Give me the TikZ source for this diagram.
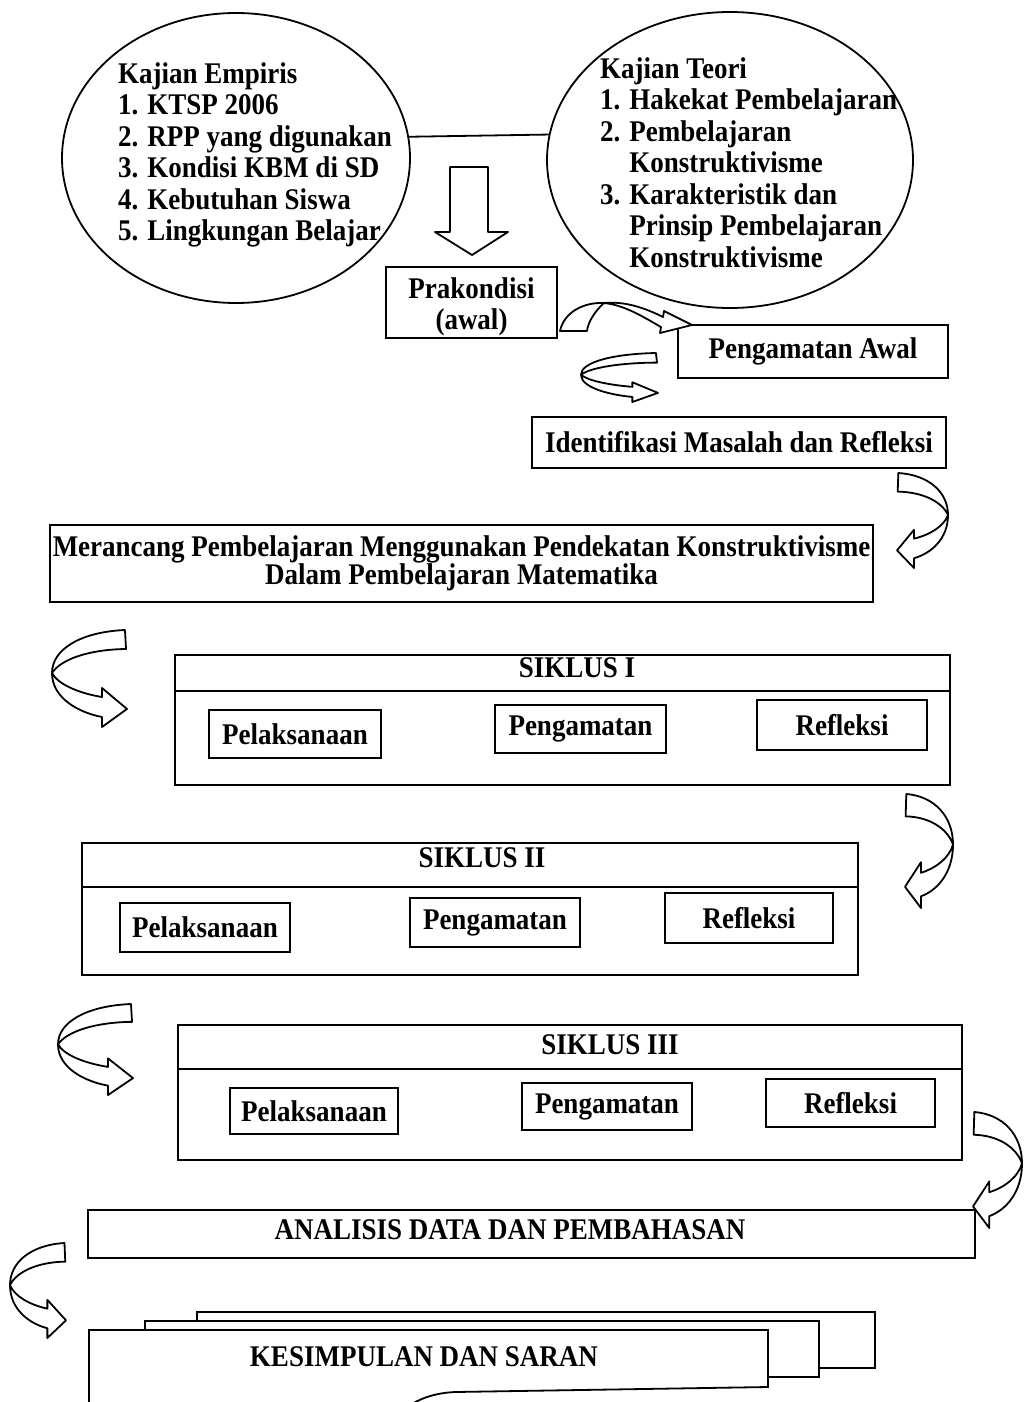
\documentclass[tikz,border=0pt]{standalone}
\usepackage{fontspec}
\setmainfont{Liberation Serif}[FakeStretch=0.9]
\usetikzlibrary{shapes.geometric}
\newcommand\CArrow[4]{%
  \begin{scope}[shift={(#1,#2)},xscale=#3,yscale=#4]
  \draw[arr] (0.973,0) .. controls (0.38,0.02) and (0,0.2) .. (0,0.443)
   .. controls (0,0.7) and (0.35,0.85) .. (0.667,0.897)
   -- (0.667,1) -- (1,0.814) -- (0.667,0.598) -- (0.667,0.691)
   .. controls (0.35,0.65) and (0.08,0.56) .. (0,0.443)
   .. controls (0.12,0.3) and (0.5,0.2) .. (0.987,0.196) -- cycle;
  \end{scope}}
\begin{document}
\begin{tikzpicture}[x=1pt,y=-1pt,
  every node/.style={font=\bfseries\fontsize{30}{31.5}\selectfont, inner sep=0pt},
  box/.style={draw, line width=1.8pt, align=center},
  ell/.style={draw, ellipse, line width=1.8pt},
  arr/.style={draw, line width=1.8pt, line join=round, fill=white},
  lin/.style={line width=1.8pt}]
\useasboundingbox (0,0) rectangle (1023,1402);
\clip (0,0) rectangle (1023,1402);

% ellipses
\node[ell, minimum width=348pt, minimum height=290pt] (le) at (236,158) {};
\node[ell, minimum width=366pt, minimum height=296pt] (re) at (730,160) {};
\draw[lin] (le.7.5) -- (re.172.5);
\node[anchor=north west, align=left] (leT) at (118,62)
  {Kajian Empiris\\1. KTSP 2006\\2. RPP yang digunakan\\3. Kondisi KBM di SD\\4. Kebutuhan Siswa\\5. Lingkungan Belajar};
\node[anchor=north west, align=left] (reT) at (600,57)
  {Kajian Teori\\1. Hakekat Pembelajaran\\2. Pembelajaran\\\hphantom{2. }Konstruktivisme\\3. Karakteristik dan\\\hphantom{3. }Prinsip Pembelajaran\\\hphantom{3. }Konstruktivisme};

% down block arrow
\draw[arr] (450,167) -- (488,167) -- (488,232) -- (508,232) -- (472,255) -- (435,232) -- (450,232) -- cycle;

% boxes
\node[box, minimum width=171pt, minimum height=71pt] (pra) at (471.5,302.5) {};
\node[align=center] (prat) at (471.5,307) {Prakondisi\\(awal)};
\node[box, minimum width=270pt, minimum height=53pt] (pa) at (813,351.5) {Pengamatan Awal};
\node[box, minimum width=414pt, minimum height=51pt] (idm) at (739,442.5) {Identifikasi Masalah dan Refleksi};
\node[box, minimum width=823pt, minimum height=77pt, font=\bfseries\fontsize{30}{28}\selectfont] (mer) at (461.5,563.5)
  {Merancang Pembelajaran Menggunakan Pendekatan Konstruktivisme\\Dalam Pembelajaran Matematika};

% arch arrow Prakondisi -> Pengamatan Awal
\draw[arr] (560,331) .. controls (564,312) and (584,302) .. (604,303)
  .. controls (625,305) and (645,318) .. (661,327)
  -- (660,333) -- (692,325) -- (664,311) -- (663,317)
  .. controls (645,308) and (625,301) .. (604,303)
  .. controls (595,311) and (588,322) .. (587,331) -- cycle;

% curved arrows
\CArrow{581}{353}{77}{49}
\CArrow{948}{473}{-51}{95}
\CArrow{52}{630}{75}{97}
\CArrow{953}{794}{-48}{114}
\CArrow{58}{1004}{75}{91}
\CArrow{1022}{1112}{-49}{116}
\CArrow{10}{1243}{56}{95}

% SIKLUS I
\node[box, minimum width=775pt, minimum height=130pt] (s1) at (562.5,720) {};
\draw[lin] ([yshift=-37pt]s1.north west) -- ([yshift=-37pt]s1.north east);
\node (s1t) at (577,668) {SIKLUS I};
\node[box, minimum width=172pt, minimum height=48pt] (p1) at (295,734) {Pelaksanaan};
\node[box, minimum width=171pt, minimum height=48pt] (g1) at (580.5,729) {Pengamatan};
\node[box, minimum width=170pt, minimum height=50pt] (r1) at (842,725) {Refleksi};

% SIKLUS II
\node[box, minimum width=776pt, minimum height=132pt] (s2) at (470,909) {};
\draw[lin] ([yshift=-45pt]s2.north west) -- ([yshift=-45pt]s2.north east);
\node (s2t) at (482,858) {SIKLUS II};
\node[box, minimum width=170pt, minimum height=49pt] (p2) at (205,927.5) {Pelaksanaan};
\node[box, minimum width=170pt, minimum height=49pt] (g2) at (495,922.5) {Pengamatan};
\node[box, minimum width=168pt, minimum height=50pt] (r2) at (749,918) {Refleksi};

% SIKLUS III
\node[box, minimum width=784pt, minimum height=135pt] (s3) at (570,1092.5) {};
\draw[lin] ([yshift=-45pt]s3.north west) -- ([yshift=-45pt]s3.north east);
\node (s3t) at (610,1045) {SIKLUS III};
\node[box, minimum width=168pt, minimum height=46pt] (p3) at (314,1111) {Pelaksanaan};
\node[box, minimum width=170pt, minimum height=47pt] (g3) at (607,1106.5) {Pengamatan};
\node[box, minimum width=169pt, minimum height=48pt] (r3) at (850.5,1103) {Refleksi};

% ANALISIS
\node[box, minimum width=887pt, minimum height=48pt] (an) at (531.5,1234) {};
\node (ant) at (510,1230) {ANALISIS DATA DAN PEMBAHASAN};

% KESIMPULAN (stacked documents)
\draw[lin, fill=white] (197,1312) rectangle (875,1368);
\draw[lin, fill=white] (145,1321) rectangle (819,1377);
\draw[lin, fill=white] (89,1412) -- (89,1330) -- (768,1330) -- (768,1387) -- (455,1392)
  .. controls (435,1393) and (418,1398) .. (400,1412);
\node (kes) at (424,1357) {KESIMPULAN DAN SARAN};
\end{tikzpicture}
\end{document}
